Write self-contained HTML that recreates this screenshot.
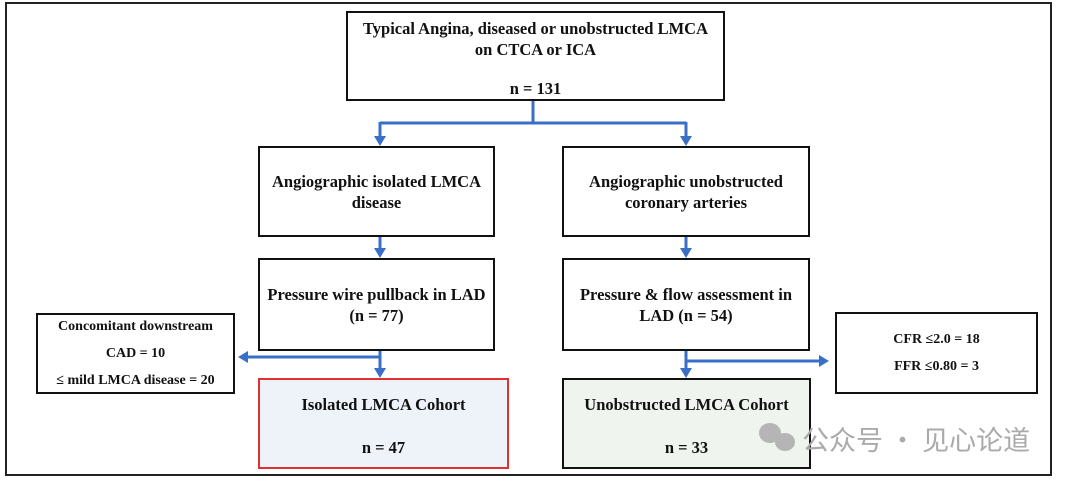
<!DOCTYPE html>
<html><head><style>
body{margin:0;width:1080px;height:483px;background:#fff;position:relative;overflow:hidden;font-family:"Liberation Serif",serif;font-weight:bold;color:#111}
.b{position:absolute;border:2px solid #111;box-sizing:border-box;display:flex;flex-direction:column;align-items:center;justify-content:center;text-align:center;font-size:16.5px;line-height:21px;white-space:nowrap}
.s{font-size:14px;line-height:27px}
.wm{position:absolute;font-family:"Noto Sans CJK SC",sans-serif;font-weight:normal;color:#aaa;font-size:27px}
</style></head><body>
<div style="position:absolute;left:5px;top:2px;width:1047px;height:474px;border:2px solid #222;box-sizing:border-box"></div>
<div class="b" style="left:346px;top:11px;width:379px;height:90px;justify-content:flex-start;padding-top:5px;font-size:16.5px">Typical Angina, diseased or unobstructed LMCA<br>on CTCA or ICA<div style="margin-top:18px">n = 131</div></div>
<div class="b" style="left:258px;top:146px;width:237px;height:91px">Angiographic isolated LMCA<br>disease</div>
<div class="b" style="left:562px;top:146px;width:248px;height:91px">Angiographic unobstructed<br>coronary arteries</div>
<div class="b" style="left:258px;top:258px;width:237px;height:93px">Pressure wire pullback in LAD<br>(n = 77)</div>
<div class="b" style="left:562px;top:258px;width:248px;height:93px">Pressure &amp; flow assessment in<br>LAD (n = 54)</div>
<div class="b s" style="left:36px;top:313px;width:199px;height:81px">Concomitant downstream<br>CAD = 10<br><span>≤ mild LMCA disease = 20</span></div>
<div class="b s" style="left:835px;top:312px;width:203px;height:82px">CFR ≤2.0 = 18<br>FFR ≤0.80 = 3</div>
<div class="b" style="left:258px;top:378px;width:251px;height:91px;border-color:#e03030;background:#eef2f9;justify-content:flex-start;padding-top:14px">Isolated LMCA Cohort<div style="margin-top:22px">n = 47</div></div>
<div class="b" style="left:562px;top:378px;width:249px;height:91px;background:#eff4ee;justify-content:flex-start;padding-top:14px">Unobstructed LMCA Cohort<div style="margin-top:22px">n = 33</div></div>
<svg style="position:absolute;left:0;top:0" width="1080" height="483">
<g stroke="#3a6fc8" stroke-width="3" fill="none">
<path d="M533 101V123M380 123H686M380 122V138M686 122V138"/>
<path d="M380 237V250M686 237V250"/>
<path d="M380 351V370M247 357H380M686 351V370M686 361H820"/>
</g>
<g fill="#3a6fc8">
<path d="M374 136H386L380 146Z"/><path d="M680 136H692L686 146Z"/>
<path d="M374 248H386L380 258Z"/><path d="M680 248H692L686 258Z"/>
<path d="M374 368H386L380 378Z"/><path d="M680 368H692L686 378Z"/>
<path d="M248 351V363L238 357Z"/><path d="M819 355V367L829 361Z"/>
</g>
<g fill="#b5b5b5"><ellipse cx="770" cy="433" rx="11" ry="10"/><ellipse cx="785" cy="442" rx="10" ry="9"/></g>
</svg>
<div class="wm" style="left:802px;top:419px">公众号 · 见心论道</div>
</body></html>
